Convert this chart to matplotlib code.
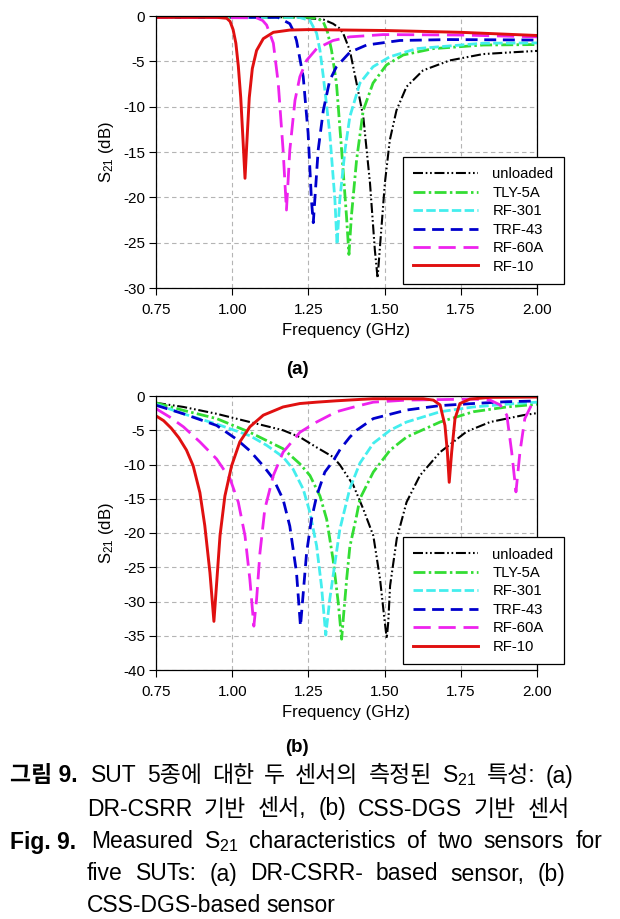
import matplotlib
matplotlib.use("Agg")
import matplotlib.pyplot as plt

# ---- panel (a): DR-CSRR sensor (GHz, dB) ----
a_unloaded_f = [0.75, 1.00, 1.22, 1.30, 1.331, 1.350, 1.364, 1.386, 1.408, 1.430, 1.452, 1.468,
                1.477, 1.484, 1.501, 1.517, 1.539, 1.572, 1.626, 1.714, 1.823, 1.92, 2.00]
a_unloaded_db = [-0.1, -0.1, -0.15, -0.4, -0.85, -1.3, -1.9, -3.8, -7.4, -11.1, -18.4, -25.8,
                 -28.9, -25.8, -18.4, -13.7, -10.4, -7.8, -6.0, -4.9, -4.2, -4.0, -3.85]

a_tly_f = [0.75, 1.25, 1.28, 1.299, 1.313, 1.326, 1.342, 1.359, 1.375, 1.383, 1.391, 1.408,
           1.430, 1.462, 1.506, 1.561, 1.659, 1.823, 2.00]
a_tly_db = [-0.15, -0.15, -0.25, -0.66, -1.8, -3.8, -7.4, -14.8, -22.1, -26.3, -22.1, -15.9,
            -10.4, -7.4, -5.4, -4.3, -3.6, -3.2, -3.15]

a_rf301_f = [0.75, 1.22, 1.255, 1.277, 1.288, 1.299, 1.320, 1.337, 1.344, 1.353, 1.370, 1.386,
             1.419, 1.462, 1.517, 1.605, 1.823, 2.00]
a_rf301_db = [-0.15, -0.15, -0.5, -1.9, -3.8, -6.7, -12.9, -20.3, -25.2, -20.3, -14.8, -11.1,
              -7.4, -5.6, -4.5, -3.6, -3.0, -2.97]

a_trf43_f = [0.75, 1.15, 1.189, 1.200, 1.211, 1.233, 1.249, 1.260, 1.266, 1.271, 1.282, 1.299,
             1.320, 1.342, 1.386, 1.441, 1.550, 1.714, 2.00]
a_trf43_db = [-0.15, -0.15, -0.85, -1.6, -2.7, -6.7, -12.9, -20.3, -22.8, -20.3, -14.8, -10.4,
              -7.1, -5.6, -4.0, -3.2, -2.7, -2.6, -2.65]

a_rf60_f = [0.75, 1.08, 1.100, 1.113, 1.135, 1.151, 1.167, 1.178, 1.189, 1.206, 1.222, 1.244,
            1.277, 1.331, 1.386, 1.495, 1.75, 2.00]
a_rf60_db = [-0.15, -0.2, -0.5, -1.0, -3.0, -7.4, -14.8, -21.4, -14.8, -9.3, -6.7, -4.9,
             -3.6, -2.7, -2.3, -2.05, -2.1, -2.3]

a_rf10_f = [0.75, 0.95, 0.982, 0.993, 1.003, 1.012, 1.020, 1.028, 1.036, 1.042, 1.048, 1.056,
            1.066, 1.080, 1.102, 1.135, 1.189, 1.25, 1.50, 1.75, 2.00]
a_rf10_db = [-0.15, -0.15, -0.25, -0.6, -1.5, -3.0, -5.5, -9.0, -14.0, -17.9, -14.0, -9.0,
             -5.8, -3.8, -2.5, -1.8, -1.55, -1.5, -1.6, -1.8, -2.15]

# ---- panel (b): CSS-DGS sensor ----
b_unloaded_f = [0.75, 0.840, 0.949, 1.058, 1.167, 1.222, 1.277, 1.331, 1.354, 1.397, 1.430, 1.463,
                1.485, 1.498, 1.507, 1.512, 1.518, 1.540, 1.572, 1.616, 1.682, 1.769, 1.846,
                1.955, 2.00]
b_unloaded_db = [-1.0, -1.6, -2.6, -3.8, -5.0, -6.0, -7.5, -8.9, -10.1, -13.0, -16.5, -20.4,
                 -26.7, -32.0, -35.4, -33.0, -27.7, -20.8, -15.5, -11.6, -8.2, -5.2, -3.8,
                 -2.8, -2.5]

b_tly_f = [0.75, 0.840, 0.949, 1.058, 1.167, 1.222, 1.255, 1.288, 1.310, 1.331, 1.348, 1.359,
           1.366, 1.376, 1.386, 1.408, 1.419, 1.463, 1.518, 1.572, 1.682, 1.791, 1.901, 2.00]
b_tly_db = [-1.0, -2.1, -3.3, -5.3, -7.7, -9.9, -11.6, -14.6, -18.0, -23.9, -30.2, -35.5,
            -31.7, -26.5, -22.0, -17.5, -15.0, -11.1, -7.9, -6.0, -3.8, -2.3, -1.6, -1.2]

b_rf301_f = [0.75, 0.840, 0.949, 1.058, 1.113, 1.167, 1.200, 1.233, 1.255, 1.277, 1.293, 1.307,
             1.320, 1.337, 1.353, 1.386, 1.419, 1.463, 1.518, 1.572, 1.682, 1.791, 1.901, 2.00]
b_rf301_db = [-1.2, -2.6, -4.1, -5.8, -7.2, -8.9, -10.7, -13.6, -17.0, -21.9, -27.8, -34.9,
              -29.7, -24.4, -19.5, -13.5, -9.8, -6.9, -5.0, -3.8, -2.3, -1.6, -1.2, -0.9]

b_trf43_f = [0.75, 0.840, 0.949, 1.014, 1.058, 1.102, 1.135, 1.167, 1.189, 1.211, 1.224, 1.233,
             1.244, 1.260, 1.277, 1.304, 1.331, 1.354, 1.386, 1.408, 1.463, 1.572, 1.682, 1.791,
             1.901, 2.00]
b_trf43_db = [-1.35, -2.6, -4.3, -6.3, -8.0, -10.2, -12.1, -15.1, -19.0, -25.8, -33.6, -28.8,
              -22.9, -18.0, -14.6, -11.1, -9.5, -7.8, -6.0, -5.0, -3.3, -2.05, -1.4, -1.1,
              -0.83, -0.73]

b_rf60_f = [0.75, 0.796, 0.840, 0.894, 0.949, 0.993, 1.020, 1.042, 1.058, 1.071, 1.080, 1.091,
            1.107, 1.135, 1.167, 1.222, 1.277, 1.342, 1.408, 1.463, 1.572, 1.791, 1.846, 1.879,
            1.901, 1.917, 1.931, 1.944, 1.960, 1.982, 2.00]
b_rf60_db = [-1.85, -3.1, -4.5, -6.7, -9.2, -12.1, -15.5, -20.4, -26.8, -33.6, -29.7, -22.9,
             -16.5, -11.6, -8.2, -5.3, -3.8, -2.3, -1.5, -0.9, -0.6, -0.45, -0.6, -1.3,
             -2.8, -8.2, -14.0, -8.2, -3.3, -1.3, -0.73]

b_rf10_f = [0.75, 0.775, 0.800, 0.825, 0.850, 0.872, 0.894, 0.910, 0.927, 0.940, 0.949, 0.960,
            0.976, 0.998, 1.025, 1.058, 1.102, 1.167, 1.222, 1.277, 1.342, 1.419, 1.463, 1.627,
            1.660, 1.682, 1.698, 1.706, 1.712, 1.720, 1.731, 1.747, 1.780, 1.846, 2.00]
b_rf10_db = [-2.9, -3.6, -4.7, -6.1, -7.9, -10.2, -14.1, -18.9, -25.8, -32.9, -27.3, -20.4,
             -14.6, -10.2, -6.7, -4.5, -2.8, -1.6, -1.1, -0.9, -0.7, -0.5, -0.4, -0.4,
             -0.6, -1.3, -4.3, -8.2, -12.6, -8.2, -3.3, -1.1, -0.45, -0.2, -0.15]

labels = ["unloaded", "TLY-5A", "RF-301", "TRF-43", "RF-60A", "RF-10"]
x_ticks = [0.75, 1.00, 1.25, 1.50, 1.75, 2.00]

styles = [
    dict(color="black", lw=1.5, ls=(0, (4.8, 1.3, 0.8, 1.3, 0.8, 1.3))),
    dict(color="#33dd33", lw=2.0, ls=(0, (4.3, 1.2, 0.9, 1.2))),
    dict(color="#44eeee", lw=2.0, ls=(0, (3.4, 1.2))),
    dict(color="#0000cc", lw=2.0, ls=(0, (4.3, 2.4))),
    dict(color="#ee22ee", lw=2.0, ls=(0, (6.2, 2.8))),
    dict(color="#e01010", lw=2.1, ls="-"),
]

plt.rcParams["font.family"] = ["Liberation Sans", "Noto Sans CJK KR", "DejaVu Sans"]
plt.rcParams["axes.unicode_minus"] = False
plt.rcParams["mathtext.default"] = "regular"

W, H = 620, 919
fig = plt.figure(figsize=(W / 100, H / 100), dpi=100)


def panel(rect, series, ylim, yticks, letter, letter_y, leg_y):
    ax = fig.add_axes(rect)
    for (f, db), lab, st in zip(series, labels, styles):
        ax.plot(f, db, label=lab, color=st["color"], linewidth=st["lw"], linestyle=st["ls"])
    ax.set_xlim(0.75, 2.00)
    ax.set_ylim(*ylim)
    ax.set_xticks(x_ticks)
    ax.set_xticklabels([f"{t:.2f}" for t in x_ticks])
    ax.set_yticks(yticks)
    ax.set_yticklabels([str(t) for t in yticks])
    ax.tick_params(direction="out", length=5, width=0.8, labelsize=11)
    ax.tick_params(axis="x", pad=6)
    ax.tick_params(axis="y", pad=3)
    ax.grid(True, color="#b4b4b4", linestyle=(0, (4, 3)), linewidth=0.8)
    ax.set_axisbelow(True)
    for s in ax.spines.values():
        s.set_linewidth(0.9)
    ax.set_xlabel("Frequency (GHz)", fontsize=12, labelpad=4)
    ax.set_ylabel("S$_{21}$ (dB)", fontsize=12, labelpad=5)
    leg = ax.legend(loc="upper left", bbox_to_anchor=(0.647, leg_y), fontsize=10.7,
                    handlelength=4.4, handletextpad=0.95, labelspacing=0.3,
                    borderpad=0.7, borderaxespad=0, fancybox=False, framealpha=1,
                    edgecolor="black")
    leg.get_frame().set_linewidth(0.9)
    fig.text(0.479, letter_y, letter, ha="center", va="center", fontsize=13.5, fontweight="bold")
    return ax


panel([156 / W, 1 - 288 / H, 381 / W, 272 / H],
      [(a_unloaded_f, a_unloaded_db), (a_tly_f, a_tly_db), (a_rf301_f, a_rf301_db),
       (a_trf43_f, a_trf43_db), (a_rf60_f, a_rf60_db), (a_rf10_f, a_rf10_db)],
      (-30, 0), list(range(-30, 1, 5)), "(a)", 1 - 369 / H, 0.4816)

panel([156 / W, 1 - 670 / H, 381 / W, 274 / H],
      [(b_unloaded_f, b_unloaded_db), (b_tly_f, b_tly_db), (b_rf301_f, b_rf301_db),
       (b_trf43_f, b_trf43_db), (b_rf60_f, b_rf60_db), (b_rf10_f, b_rf10_db)],
      (-40, 0), list(range(-40, 1, 5)), "(b)", 1 - 747 / H, 0.485)

# ---- caption, spread over the line width like the journal layout ----
cs = 16.5
renderer = fig.canvas.get_renderer()


def caption_line(words, x0, x1, y, justify=True, **kw):
    texts = [fig.text(0, 1 - y / H, w, va="center", fontsize=cs, **kw) for w in words]
    widths = [t.get_window_extent(renderer).width for t in texts]
    space = texts[0].get_fontsize() * 0.3
    gap = space
    if justify and len(words) > 1:
        gap = max((x1 - x0 - sum(widths)) / (len(words) - 1), space)
    x = x0
    for t, w in zip(texts, widths):
        t.set_x(x / W)
        x += w + gap


fig.text(10 / W, 1 - 776 / H, "그림 9.", fontsize=cs, fontweight="bold", va="center")
caption_line(["SUT", "5종에", "대한", "두", "센서의", "측정된", "S$_{21}$", "특성:", "(a)"],
             91, 573, 776)
caption_line(["DR-CSRR", "기반", "센서,", "(b)", "CSS-DGS", "기반", "센서"], 87, 570, 809)
fig.text(10 / W, 1 - 842 / H, "Fig. 9.", fontsize=cs, fontweight="bold", va="center")
caption_line(["Measured", "S$_{21}$", "characteristics", "of", "two", "sensors", "for"],
             91, 602, 842)
caption_line(["five", "SUTs:", "(a)", "DR-CSRR-", "based", "sensor,", "(b)"], 87, 565, 874)
caption_line(["CSS-DGS-based", "sensor"], 87, 343, 906, justify=False)

fig.savefig("out.png", dpi=100)
